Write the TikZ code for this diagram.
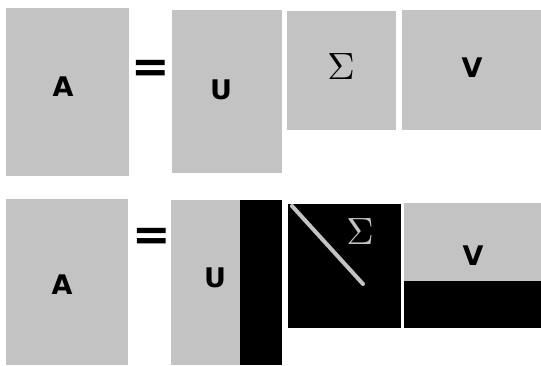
\documentclass[tikz,border=0pt]{standalone}
\usepackage{fontspec}
\setmainfont{DejaVu Sans}
\definecolor{matgray}{RGB}{195,195,195}

\begin{document}
\begin{tikzpicture}[x=1pt, y=-1pt,
    lbl/.style={font=\fontsize{27}{27}\selectfont\bfseries},
    sig/.style={scale=3.8},
    eq/.style={font=\fontsize{46}{46}\selectfont\bfseries}]
  \useasboundingbox (0,0) rectangle (541,365);
  % full SVD: every block is filled
  \begin{scope}
    \fill[matgray] (6,8) rectangle (129,176);
    \fill[matgray] (172,10) rectangle (282,173);
    \fill[matgray] (287,11) rectangle (396,130);
    \fill[matgray] (402,10) rectangle (541,130);
    \node[lbl] (A1) at (63,87) {A};
    \node[eq] (eq1) at (151,71) {=};
    \node[lbl] (U1) at (221,90) {U};
    \node[sig] (S1) at (341,67) {$\Sigma$};
    \node[lbl] (V1) at (472,68) {V};
  \end{scope}
  % reduced SVD: the black parts drop out
  \begin{scope}
    \fill[matgray] (6,199) rectangle (128,365);
    \fill[matgray] (171,200) rectangle (240,365);
    \fill[black] (240,200) rectangle (282,365);
    \fill[black] (288,204) rectangle (401,328);
    \draw[matgray, line width=4pt, line cap=round] (292,206) -- (363,284);
    \fill[matgray] (404,203) rectangle (541,281);
    \fill[black] (404,281) rectangle (541,328);
    \node[lbl] (A2) at (62,285) {A};
    \node[eq] (eq2) at (152,239) {=};
    \node[lbl] (U2) at (215,278) {U};
    \node[sig, matgray] (S2) at (360,232) {$\Sigma$};
    \node[lbl] (V2) at (473,256) {V};
  \end{scope}
\end{tikzpicture}
\end{document}
